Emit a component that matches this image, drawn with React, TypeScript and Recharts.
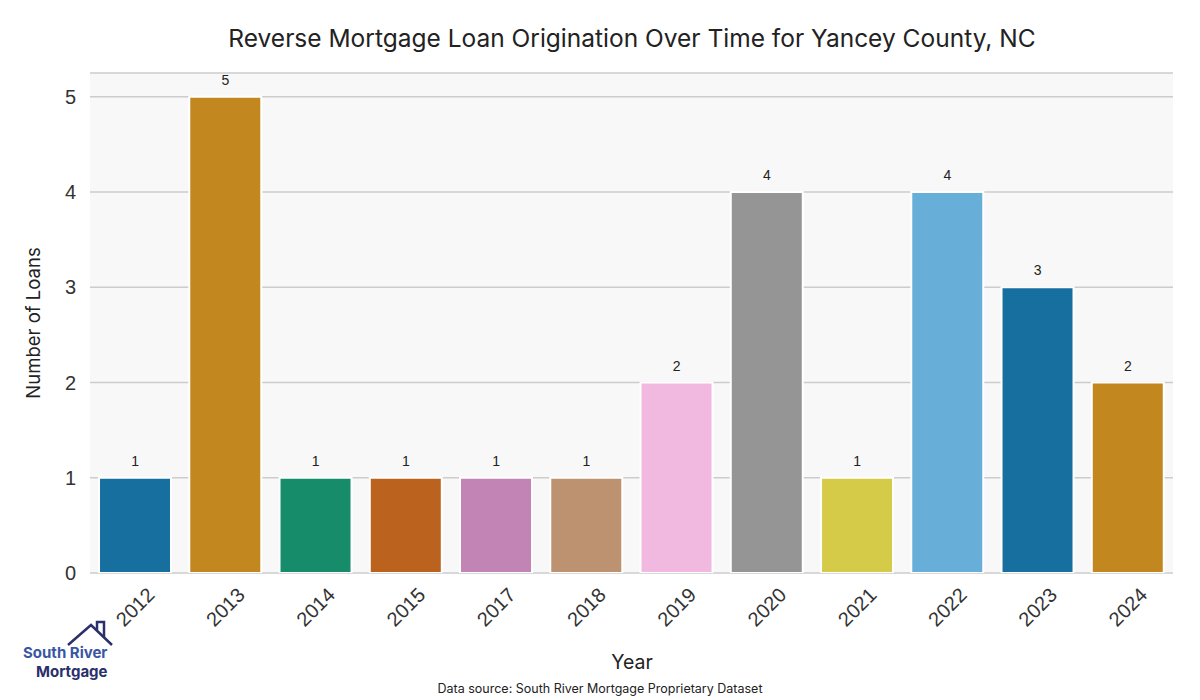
import React from 'react';
import { BarChart, Bar, XAxis, YAxis, CartesianGrid, LabelList, Cell } from 'recharts';

const years = ['2012', '2013', '2014', '2015', '2017', '2018', '2019', '2020', '2021', '2022', '2023', '2024'];
const loans = [1, 5, 1, 1, 1, 1, 2, 4, 1, 4, 3, 2];
const colors = ['#176fa0', '#c3871f', '#168c6a', '#ba621e', '#c283b5', '#bc9270', '#f1b8e0', '#959595', '#d6cb49', '#67afd8', '#176fa0', '#c3871f'];
const yTicks = [0, 1, 2, 3, 4, 5];

const data = years.map((year, i) => ({ year, loans: loans[i] }));

const textFont = 'Inter, "Noto Sans", sans-serif';
const tickFont = '"Liberation Sans", Arial, sans-serif';

const XTick = (props: any) => {
    const { x, y, payload } = props;
    const cy = y + 26;
    return (
        <text
            x={x}
            y={cy}
            textAnchor="middle"
            dominantBaseline="central"
            transform={`rotate(-45, ${x}, ${cy})`}
            fontSize={20}
            fontFamily={tickFont}
            fill="#333"
        >
            {payload.value}
        </text>
    );
};

// titles, axis names, footnote and logo drawn on top of the chart
const Overlay: React.FC = () => (
    <svg width={1200} height={700} style={{ position: 'absolute', left: 0, top: 0, pointerEvents: 'none' }}>
        <text x={632} y={47} textAnchor="middle" fontFamily={textFont} fontSize={24.5} fill="#222">
            Reverse Mortgage Loan Origination Over Time for Yancey County, NC
        </text>
        <text
            x={40}
            y={323}
            textAnchor="middle"
            transform="rotate(-90, 40, 323)"
            fontFamily={textFont}
            fontSize={18.5}
            fill="#222"
        >
            Number of Loans
        </text>
        <text x={632} y={669} textAnchor="middle" fontFamily={textFont} fontSize={19.5} fill="#222">Year</text>
        <text x={600} y={693} textAnchor="middle" fontFamily={textFont} fontSize={12.5} fill="#222">
            Data source: South River Mortgage Proprietary Dataset
        </text>
        <polyline points="68,645 91,625 112,645" fill="none" stroke="#2b2f6b" strokeWidth={2.5} />
        <polyline points="97,630 97,622 104,622 104,637" fill="none" stroke="#2b2f6b" strokeWidth={2.5} />
        <text x={23} y={658} fontFamily={textFont} fontWeight={700} fontSize={15} fill="#3a55a4">South River</text>
        <text x={36} y={677} fontFamily={textFont} fontWeight={700} fontSize={15} fill="#2b2f6b">Mortgage</text>
    </svg>
);

const App: React.FC = () => {
    return (
        <div style={{ position: 'absolute', left: 0, top: 0, width: 1200, height: 700, background: '#fff' }}>
            <BarChart
                width={1200}
                height={700}
                data={data}
                margin={{ top: 73, right: 27, left: 30, bottom: 57 }}
                barCategoryGap="10%"
            >
                <CartesianGrid vertical={false} fill="#f8f8f8" stroke="#cccccc" strokeWidth={1.5} />
                <XAxis
                    dataKey="year"
                    height={70}
                    tick={<XTick />}
                    tickLine={false}
                    axisLine={false}
                    interval={0}
                />
                <YAxis
                    width={60}
                    domain={[0, 5.25]}
                    ticks={yTicks}
                    allowDataOverflow
                    tickLine={false}
                    axisLine={false}
                    tick={{ fontSize: 20, fontFamily: tickFont, fill: '#333' }}
                    tickMargin={8}
                />
                <Bar dataKey="loans" stroke="#ffffff" strokeWidth={2} isAnimationActive={false}>
                    {data.map((d, i) => (
                        <Cell key={d.year} fill={colors[i]} />
                    ))}
                    <LabelList dataKey="loans" position="top" offset={12} fontSize={14} fontFamily={tickFont} fill="#222" />
                </Bar>
            </BarChart>
            <Overlay />
        </div>
    );
};

export default App;
